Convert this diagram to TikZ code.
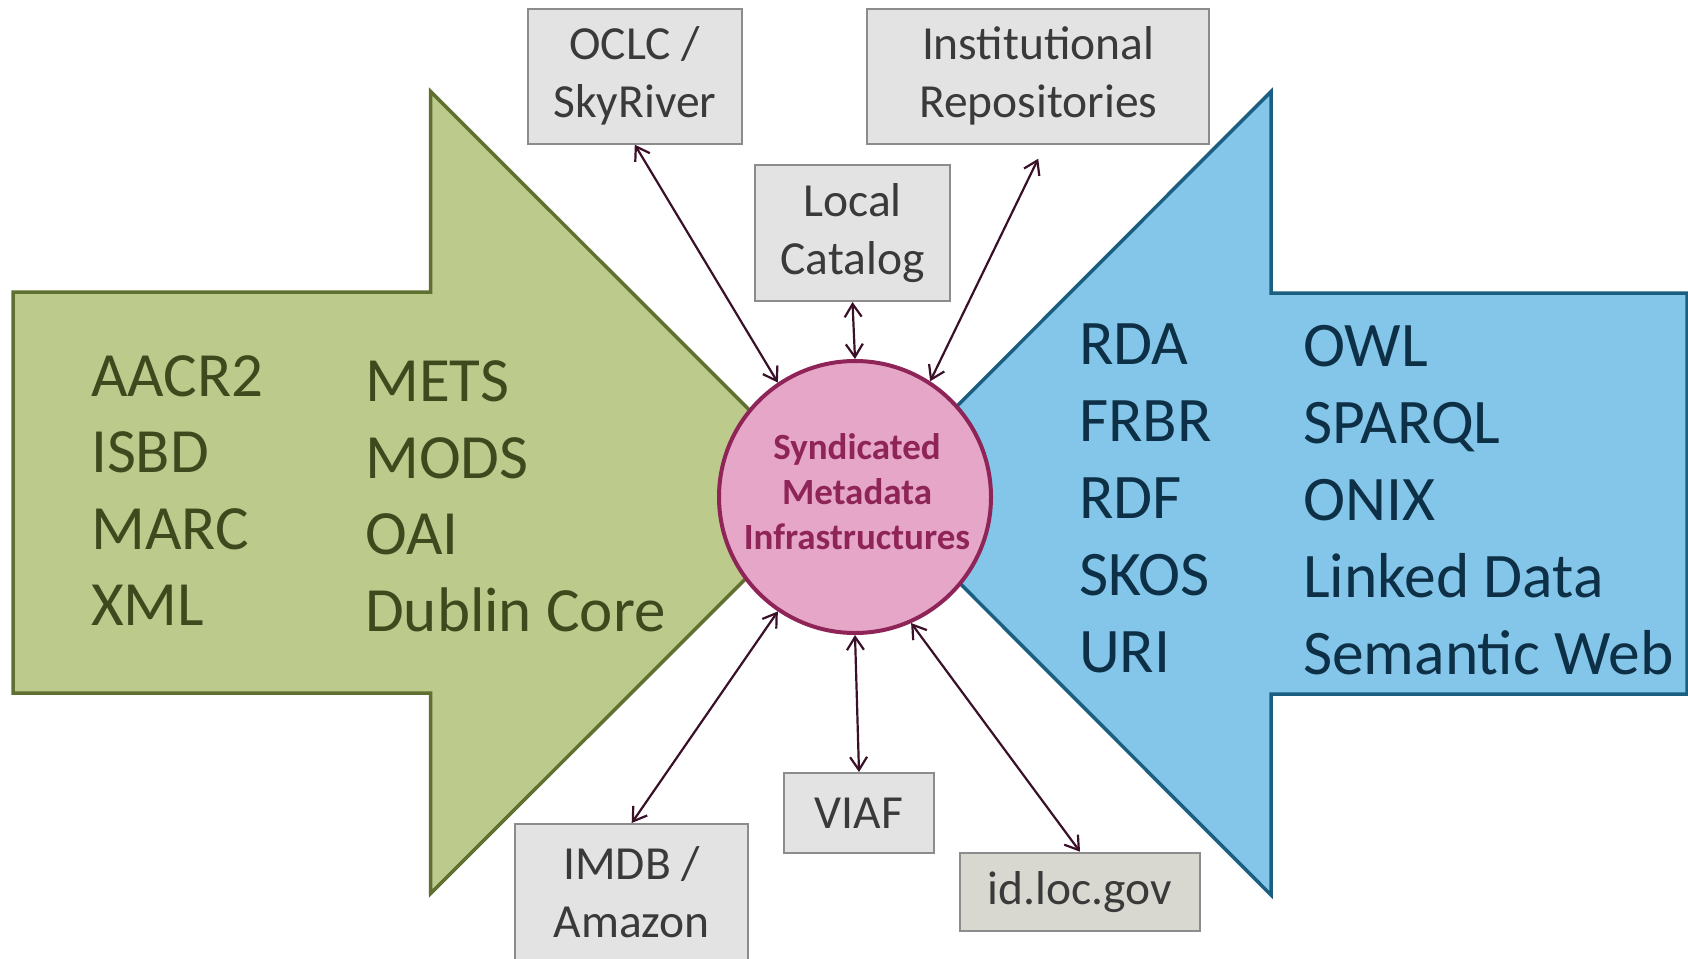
\documentclass[tikz,border=0pt]{standalone}
\usepackage{fontspec}
\setmainfont{Carlito}
\usepackage{xcolor}
\usepackage{tikz}
\usetikzlibrary{
    positioning,
    arrows.meta,
    calc
}

\definecolor{greenfill}{RGB}{188,202,139}
\definecolor{greenline}{RGB}{95,112,48}
\definecolor{greentext}{RGB}{62,74,30}
\definecolor{bluefill}{RGB}{132,198,234}
\definecolor{blueline}{RGB}{26,94,128}
\definecolor{bluetext}{RGB}{14,48,70}
\definecolor{synfill}{RGB}{230,166,199}
\definecolor{synline}{RGB}{142,36,88}
\definecolor{boxfill}{RGB}{227,227,227}
\definecolor{boxline}{RGB}{140,140,140}
\definecolor{boxtext}{RGB}{58,58,58}
\definecolor{locfill}{RGB}{216,216,208}
\definecolor{linkcol}{RGB}{58,16,40}

\tikzset{
    srcbox/.style={draw=boxline, fill=boxfill, line width=2pt, inner sep=0pt,
        align=center, text=boxtext, font=\fontsize{47.5}{58}\selectfont},
    greenterm/.style={anchor=base west, inner sep=0pt, text=greentext,
        font=\fontsize{63}{76}\selectfont},
    blueterm/.style={anchor=base west, inner sep=0pt, text=bluetext,
        font=\fontsize{63.5}{76}\selectfont},
    link/.style={{Straight Barb[length=13pt,width=17pt]}-{Straight Barb[length=13pt,width=17pt]},
        line width=2.2pt, draw=linkcol}
}

\begin{document}
\begin{tikzpicture}[x=1pt, y=-1pt]
            \useasboundingbox (0,0) rectangle (1688,958);
            \clip (0,0) rectangle (1688,958);

            % the two big arrows
            \draw[line width=3.5pt, draw=greenline, fill=greenfill]
                (13,292) -- (430.6,292) -- (430.6,91.5) -- (832,492.5)
                -- (430.6,893.5) -- (430.6,693) -- (13,693) -- cycle;
            \draw[line width=3.5pt, draw=blueline, fill=bluefill]
                (1687,293) -- (1271,293) -- (1271,91.5) -- (870,493.3)
                -- (1271,895) -- (1271,694) -- (1687,694) -- cycle;

            \foreach \t [count=\i from 0] in {AACR2, ISBD, MARC, XML} {
                \node[greenterm] (ga\i) at (91, 396+76.5*\i) {\t};
            }
            \foreach \t [count=\i from 0] in {METS, MODS, OAI, Dublin Core} {
                \node[greenterm] (gb\i) at (365, 401.5+76.5*\i) {\t};
            }
            \foreach \t [count=\i from 0] in {RDA, FRBR, RDF, SKOS, URI} {
                \node[blueterm] (ba\i) at (1079, 364+77*\i) {\t};
            }
            \foreach \t [count=\i from 0] in {OWL, SPARQL, ONIX, Linked Data, Semantic Web} {
                \node[blueterm] (bb\i) at (1303, 366+77.2*\i) {\t};
            }

            \node[circle, minimum size=272pt, inner sep=0pt, line width=4pt,
                draw=synline, fill=synfill] (syn) at (855,497) {};
            \node[align=center, text=synline, inner sep=0pt,
                font=\fontsize{37}{45}\selectfont\bfseries] (synlabel) at (857,492)
                {Syndicated\\Metadata\\Infrastructures};

            % sources
            \node[srcbox, minimum width=214pt, minimum height=135pt] (oclc) at (634.8,76.2) {OCLC /\\SkyRiver};
            \node[srcbox, minimum width=342pt, minimum height=135pt] (inst) at (1038.2,76.2) {Institutional\\Repositories};
            \node[srcbox, minimum width=195pt, minimum height=136pt] (local) at (852.5,233) {Local\\Catalog};
            \node[srcbox, minimum width=150pt, minimum height=80pt] (viaf) at (859,813) {VIAF};
            \node[srcbox, minimum width=233pt, minimum height=136pt] (imdb) at (631.7,892) {IMDB /\\Amazon};
            \node[srcbox, fill=locfill, minimum width=240pt, minimum height=78pt] (idloc) at (1080,891.7) {id.loc.gov};

            \draw[link] (oclc.south) -- (syn.124);
            \draw[link] (local.south) -- (syn.north);
            \draw[link] ([yshift=-14pt]inst.south) -- (syn.57);
            \draw[link] (imdb.north) -- (syn.236);
            \draw[link] (viaf.north) -- (syn.south);
            \draw[link] (idloc.north) -- (syn.294.6);
\end{tikzpicture}
\end{document}
